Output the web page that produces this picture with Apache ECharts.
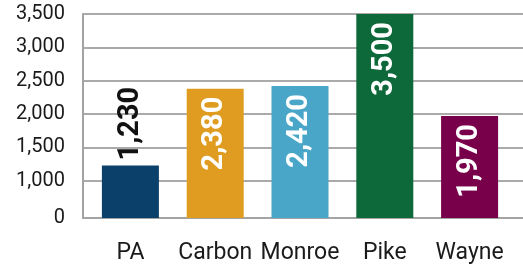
<!DOCTYPE html>
<html>
<head>
<meta charset="utf-8">
<script src="https://cdn.jsdelivr.net/npm/echarts@6/dist/echarts.min.js"></script>
<style>
html,body{margin:0;padding:0;background:#fff;}
#chart{width:523px;height:267px;}
</style>
</head>
<body>
<div id="chart"></div>
<script>
const categories = ["PA", "Carbon", "Monroe", "Pike", "Wayne"];
const values = [1230, 2380, 2420, 3500, 1970];
const barColors = ["#0b406b", "#df9c20", "#4aa6c9", "#0e693a", "#78004b"];
const tickValues = [442, 1000, 1500, 2000, 2500, 3000, 3500];
const tickLabels = ["0", "1,000", "1,500", "2,000", "2,500", "3,000", "3,500"];

const Y_MIN = 442, Y_MAX = 3500;
const fmt = v => v.toLocaleString("en-US");

const chart = echarts.init(document.getElementById("chart"), null, {renderer: "canvas"});

const barData = values.map((v, i) => {
  const outside = v < 1500;
  return {
    value: v,
    itemStyle: {color: barColors[i]},
    label: outside ? {
      show: true, position: "top", rotate: 90, align: "left", verticalAlign: "middle",
      distance: 5, color: "#111111"
    } : {
      show: true, position: "insideTop", rotate: 90, align: "right", verticalAlign: "middle",
      distance: 8, color: "#ffffff"
    }
  };
});

chart.setOption({
  animation: false,
  backgroundColor: "#ffffff",
  grid: [
    {left: 83, right: 0, top: 14, height: 204},
    {left: 88, right: 11, top: 14, height: 204}
  ],
  xAxis: [
    {gridIndex: 0, type: "value", min: 0, max: 1,
     axisLine: {show: true, lineStyle: {color: "#a3a3a3", width: 2}},
     axisTick: {show: false}, axisLabel: {show: false}, splitLine: {show: false}},
    {gridIndex: 1, type: "category", data: categories,
     axisLine: {show: false}, axisTick: {show: false},
     axisLabel: {interval: 0, hideOverlap: false, color: "#1a1a1a", fontFamily: "Roboto", fontSize: 23, margin: 24}}
  ],
  yAxis: [
    {gridIndex: 0, type: "value", min: Y_MIN, max: Y_MAX,
     axisLine: {show: true, lineStyle: {color: "#a3a3a3", width: 2}},
     axisTick: {show: false, customValues: tickValues},
     axisLabel: {customValues: tickValues, color: "#1a1a1a", fontFamily: "Roboto", fontSize: 20, margin: 18,
       formatter: v => { const i = tickValues.indexOf(v); return i >= 0 ? tickLabels[i] : ""; }},
     splitLine: {show: true, lineStyle: {color: "#aaaaaa", width: 2}}},
    {gridIndex: 1, type: "value", min: Y_MIN, max: Y_MAX, show: false,
     splitLine: {show: false}}
  ],
  series: [{
    type: "bar", xAxisIndex: 1, yAxisIndex: 1,
    data: barData, barWidth: 57,
    label: {show: true, fontFamily: "Roboto", fontWeight: "bold", fontSize: 29,
      formatter: p => fmt(p.value)}
  }]
});
</script>
</body>
</html>
